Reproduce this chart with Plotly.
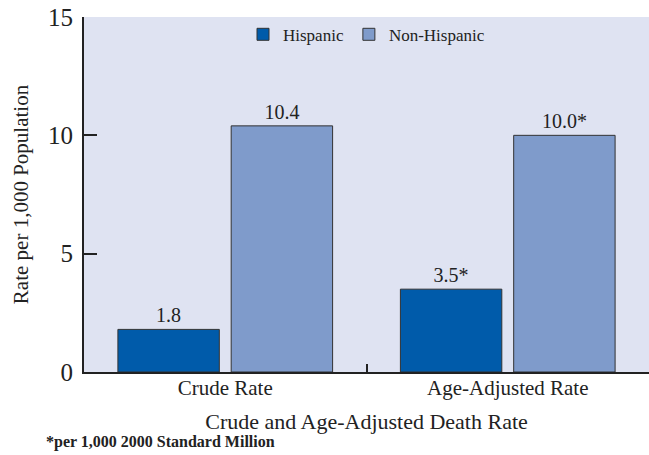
import plotly.graph_objects as go

categories = ["Crude Rate", "Age-Adjusted Rate"]
hispanic = [1.8, 3.5]
non_hispanic = [10.4, 10.0]
hispanic_labels = ["1.8", "3.5*"]
non_hispanic_labels = ["10.4", "10.0*"]
y_ticks = [0, 5, 10, 15]

FONT = "Liberation Serif, Times New Roman, serif"
INK = "#222222"

fig = go.Figure()
fig.add_trace(go.Bar(
    x=categories, y=hispanic, name="Hispanic",
    text=hispanic_labels, textposition="outside", cliponaxis=False,
    textfont=dict(size=20, color=INK),
    marker=dict(color="#005BAA", line=dict(color="#333333", width=1)),
    width=0.359, offset=-0.38,
))
fig.add_trace(go.Bar(
    x=categories, y=non_hispanic, name="Non-Hispanic",
    text=non_hispanic_labels, textposition="outside", cliponaxis=False,
    textfont=dict(size=20, color=INK),
    marker=dict(color="#7F9BCB", line=dict(color="#333333", width=1)),
    width=0.359, offset=0.021,
))

fig.update_layout(
    width=649, height=455,
    margin=dict(l=84, r=0, t=17, b=83),
    paper_bgcolor="white", plot_bgcolor="#DFE3F2",
    font=dict(family=FONT, color=INK, size=18),
    barmode="overlay",
    showlegend=True,
    legend=dict(orientation="h", x=0.5, xanchor="center", y=0.95, yanchor="middle",
                bgcolor="rgba(0,0,0,0)", font=dict(size=17),
                itemwidth=30, traceorder="normal"),
    xaxis=dict(
        type="category", range=[-0.5, 1.5],
        showline=True, linecolor=INK, linewidth=2,
        ticks="inside", tickson="boundaries", ticklen=8, tickwidth=2, tickcolor=INK,
        showgrid=False, tickfont=dict(size=21), ticklabelstandoff=-4,
        title=dict(text="Crude and Age-Adjusted Death Rate", font=dict(size=22), standoff=14),
    ),
    yaxis=dict(
        range=[0, 15], tickvals=y_ticks,
        showline=True, linecolor=INK, linewidth=2,
        ticks="inside", ticklen=13, tickwidth=2, tickcolor=INK,
        showgrid=False, zeroline=False, tickfont=dict(size=25),
        ticklabelstandoff=4,
        title=dict(text="Rate per 1,000 Population", font=dict(size=21), standoff=14),
    ),
)

fig.add_annotation(
    text="<b>*per 1,000 2000 Standard Million</b>",
    xref="paper", yref="paper", x=(160 - 84) / 565, y=-(442 - 372) / 355,
    xanchor="center", yanchor="middle", showarrow=False,
    font=dict(size=16, family=FONT, color=INK),
)

fig.write_html("out.html", config={"displayModeBar": False},
               post_script="document.body.style.margin='0';document.body.style.padding='0';")
